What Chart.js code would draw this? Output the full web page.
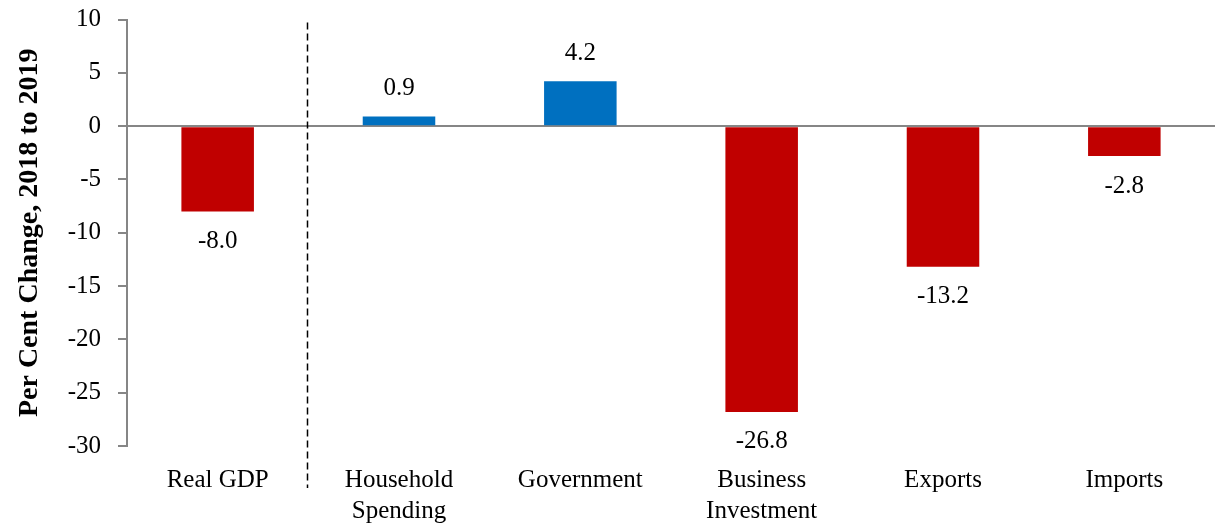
<!DOCTYPE html>
<html>
<head>
<meta charset="utf-8">
<script src="https://cdn.jsdelivr.net/npm/chart.js@4"></script>
<style>
  html, body { margin: 0; padding: 0; background: #fff; }
  #wrap { width: 1217px; height: 527px; }
</style>
</head>
<body>
<div id="wrap"><canvas id="chart" width="1217" height="527"></canvas></div>
<script>
const categories = ['Real GDP', ['Household', 'Spending'], 'Government', ['Business', 'Investment'], 'Exports', 'Imports'];
const changeValues = [-8.0, 0.9, 4.2, -26.8, -13.2, -2.8];
const yTicks = [10, 5, 0, -5, -10, -15, -20, -25, -30];

const RED = '#C00000';
const BLUE = '#0070C0';
const AXIS = '#868686';
const FONT = "'Liberation Serif', 'Times New Roman', serif";

// value labels above / below each bar
const valueLabels = {
    id: 'valueLabels',
    afterDatasetsDraw(chart) {
        const ctx = chart.ctx;
        const meta = chart.getDatasetMeta(0);
        ctx.save();
        ctx.font = '25px ' + FONT;
        ctx.fillStyle = '#000';
        ctx.textAlign = 'center';
        ctx.textBaseline = 'middle';
        meta.data.forEach((bar, i) => {
            const v = changeValues[i];
            const y = v >= 0 ? bar.y - 28 : bar.y + 30;
            ctx.fillText(v.toFixed(1), bar.x, y);
        });
        ctx.restore();
    }
};

// dashed separator between Real GDP and the components
const separator = {
    id: 'separator',
    afterDraw(chart) {
        const xs = chart.scales.x;
        const x = Math.round((xs.getPixelForValue(0) + xs.getPixelForValue(1)) / 2) - 0.5;
        const ctx = chart.ctx;
        ctx.save();
        ctx.strokeStyle = '#000';
        ctx.lineWidth = 1.5;
        ctx.setLineDash([7, 4]);
        ctx.beginPath();
        ctx.moveTo(x, chart.chartArea.top + 3);
        ctx.lineTo(x, 488);
        ctx.stroke();
        ctx.restore();
    }
};

new Chart(document.getElementById('chart'), {
    type: 'bar',
    data: {
        labels: categories,
        datasets: [{
            data: changeValues,
            backgroundColor: changeValues.map(v => v >= 0 ? BLUE : RED),
            barPercentage: 0.4,
            categoryPercentage: 1.0
        }]
    },
    options: {
        responsive: false,
        animation: false,
        layout: { padding: { top: 19.5, right: 2, left: 0, bottom: 0 } },
        plugins: {
            legend: { display: false },
            tooltip: { enabled: false }
        },
        scales: {
            x: {
                grid: { display: false, drawTicks: false },
                border: { display: false },
                ticks: {
                    color: '#000',
                    font: { family: FONT, size: 25, lineHeight: 1.24 },
                    padding: 19,
                    maxRotation: 0,
                    autoSkip: false
                },
                afterFit(scale) { scale.height = 81; }
            },
            y: {
                min: -30,
                max: 10,
                afterBuildTicks(scale) { scale.ticks = yTicks.map(v => ({ value: v })); },
                grid: {
                    color: c => c.tick && c.tick.value === 0 ? AXIS : 'rgba(0,0,0,0)',
                    lineWidth: 2,
                    tickColor: AXIS,
                    tickLength: 9,
                    drawTicks: true
                },
                border: { color: AXIS, width: 2 },
                ticks: {
                    color: '#000',
                    font: { family: FONT, size: 25 },
                    padding: 17
                },
                title: {
                    display: true,
                    text: 'Per Cent Change, 2018 to 2019',
                    color: '#000',
                    font: { family: FONT, size: 28, weight: 'bold' },
                    padding: { top: 13, bottom: 0 }
                },
                afterFit(scale) {
                    scale.width = 127;
                    scale.paddingTop = 0;
                    scale.paddingBottom = 0;
                }
            }
        }
    },
    plugins: [valueLabels, separator]
});
</script>
</body>
</html>
